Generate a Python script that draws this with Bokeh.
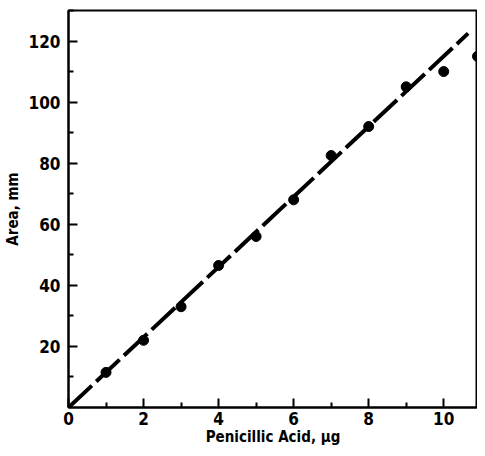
from bokeh.plotting import figure
from bokeh.models import FixedTicker, Range1d
from bokeh.embed import file_html
from bokeh.resources import INLINE

# Data
amount_ug = [1, 2, 3, 4, 5, 6, 7, 8, 9, 10, 10.9]
area_mm = [11.5, 22, 33, 46.5, 56, 68, 82.5, 92, 105, 110, 115]
fit_x = [0, 10.65]
fit_y = [0, 122.5]
x_major = [0, 2, 4, 6, 8, 10]
x_minor = [1, 3, 5, 7, 9]
y_major = [20, 40, 60, 80, 100, 120]
y_minor = [10, 30, 50, 70, 90, 110, 130]

FONT = "'DejaVu Sans Condensed', 'Liberation Sans', sans-serif"

p = figure(width=477, height=448, output_backend="svg", toolbar_location=None,
           x_range=Range1d(0, 10.9), y_range=Range1d(0, 130),
           min_border_left=66, min_border_right=0, min_border_top=10, min_border_bottom=40)
p.grid.visible = False
p.outline_line_color = "black"
p.outline_line_width = 2
p.background_fill_color = "white"
p.border_fill_color = "white"

p.line(fit_x, fit_y, line_color="black", line_width=4, line_dash="32 6")
p.scatter(amount_ug, area_mm, size=10, fill_color="black", line_color="black")

for ax in (p.xaxis[0], p.yaxis[0]):
    ax.axis_line_width = 2
    ax.axis_line_color = "black"
    ax.major_tick_in = 9
    ax.major_tick_out = 0
    ax.minor_tick_in = 5
    ax.minor_tick_out = 0
    ax.major_tick_line_width = 2
    ax.minor_tick_line_width = 2
    ax.major_label_text_font = FONT
    ax.major_label_text_font_style = "bold"
    ax.major_label_text_font_size = "17px"
    ax.major_label_text_color = "black"
    ax.axis_label_text_font = FONT
    ax.axis_label_text_font_style = "bold"
    ax.axis_label_text_font_size = "15px"
    ax.axis_label_text_color = "black"

p.xaxis.ticker = FixedTicker(ticks=x_major, minor_ticks=x_minor)
p.yaxis.ticker = FixedTicker(ticks=y_major, minor_ticks=y_minor)
p.xaxis.axis_label = "Penicillic Acid, μg"
p.yaxis.axis_label = "Area, mm"
p.xaxis.major_label_standoff = 4
p.yaxis.major_label_standoff = 8
p.xaxis.axis_label_standoff = 0
p.yaxis.axis_label_standoff = 4
p.yaxis.major_label_orientation = "horizontal"

open("out.html", "w").write(file_html(p, INLINE))
